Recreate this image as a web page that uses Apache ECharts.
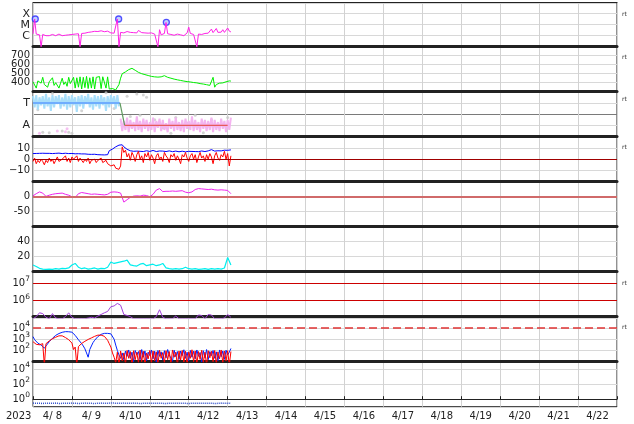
<!DOCTYPE html>
<html><head><meta charset="utf-8">
<script src="https://cdn.jsdelivr.net/npm/echarts@6/dist/echarts.min.js"></script>
<style>html,body{margin:0;padding:0;background:#fff}#c{width:634px;height:424px}</style>
</head><body><div id="c"></div>
<script>
// ================= DATA (hours counted from 2023-04-08 00 UT) =================
const dayLabels = ['4/ 8','4/ 9','4/10','4/11','4/12','4/13','4/14','4/15','4/16','4/17','4/18','4/19','4/20','4/21','4/22'];
const yearLabel = '2023';
const fluxClassLabels = {'-6':'C','-5':'M','-4':'X'};
const sectorLabels = {'1':'A','3':'T'};

// X-ray flux, hourly, in 1e-6 W/m2
const xrayFlux = [
 1.5,33,1.4,1.1,1.2,0.1,1.3,1.1,1.0,1.2,
 1.0,1.1,1.3,1.1,1.0,1.2,1.4,1.1,1.0,1.2,
 1.1,1.3,1.2,1.1,1.3,1.5,1.4,1.8,1.5,0.1,
 1.6,1.4,1.7,1.5,2.0,1.6,2.2,1.8,2.5,1.9,
 2.4,2.0,2.8,2.1,2.3,1.9,2.6,2.0,1.8,2.2,
 1.7,2.0,33,0.1,2.0,1.6,1.8,1.5,2.4,1.7,
 2.0,2.8,1.9,2.6,1.8,3.0,2.1,1.9,2.4,1.8,
 2.0,1.7,2.2,1.8,1.6,1.4,1.3,0.1,3.5,1.2,
 1.5,1.6,16,1.5,1.4,1.3,1.2,1.1,1.2,1.4,
 1.3,1.2,1.1,1.0,1.2,1.8,6.0,1.6,1.4,1.3,
 1.2,0.1,1.4,1.5,1.3,1.4,1.6,2.0,1.7,2.2,
 4.0,1.9,2.1,4.5,2.0,2.4,2.1,3.5,2.0,2.3,
 5.0,2.6,2.2];
const flareHours = [1.4, 52.8, 82.2];
const flareFlux = [33, 33, 16.5]; // 1e-6 W/m2

// Solar wind speed, hourly, km/s
const windSpeed = [
 410,430,340,420,400,
 395,460,380,400,350,410,390,455,370,400,420,340,395,450,380,410,360,460,390,400,
 460,340,455,350,465,330,460,345,470,335,455,340,465,330,460,
 465,468,335,466,467,340,465,
 330,325,335,328,320,330,
 380,450,500,515,520,
 535,545,550,560,545,538,
 525,515,510,500,495,490,485,
 480,475,470,468,465,460,462,458,465,
 470,478,465,460,455,
 450,445,440,438,432,430,425,420,418,415,412,410,408,405,402,
 400,398,395,390,388,385,382,378,375,
 370,355,460,350,
 380,390,395,400,398,405,410,415,420,418];

// Sector: T (3) / A (1)
const sectorHours = [0, 53.6, 56.5, 120];
const sectorVals  = [3, 3, 1, 1];
const towardCloud = [ // hourly from h0
 3.6,2.6,3.7,2.4,3.5,2.8,3.6,2.5,3.8,2.7,
 3.5,2.3,3.7,2.6,3.6,2.9,3.7,2.5,3.5,2.7,
 3.8,2.4,3.6,2.6,3.7,2.8,3.5,2.2,3.6,2.7,
 3.7,2.5,3.6,2.9,3.8,2.6,3.5,2.4,3.7,2.7,
 3.6,2.5,3.7,2.8,3.5,2.3,3.6,2.6,3.7,2.9,
 3.6,2.5,3.7,2.7];
const awayStartHour = 54;
const awayCloud = [ // hourly from h54
 1.6,0.5,1.4,0.6,1.7,0.4,1.5,0.7,1.3,0.5,
 1.8,0.6,1.4,0.4,1.6,0.7,1.5,0.5,1.3,0.6,
 1.7,0.4,1.4,0.8,1.6,0.5,1.5,0.6,1.2,0.4,
 1.6,0.7,1.4,0.5,1.7,0.6,1.3,0.5,1.5,0.4,
 1.6,0.7,1.4,0.6,1.8,0.5,1.5,0.6,1.3,0.4,
 1.6,0.7,1.5,0.5,1.4,0.6,1.7,0.4,1.5,0.6,
 1.3,0.5,1.6,0.7,1.4,0.4,1.5,0.6,1.7];
const greyHours = [3,12,30,45,50,6,10,18,22,24,58,64,68,70,60,66,75,80,88,95,100,110,115,120,85,105];
const greyVals  = [2.4,3.85,2.3,3.9,2.5,0.4,0.35,0.5,0.4,0.3,3.6,3.8,3.7,3.5,1.8,1.9,1.5,0.8,1.7,1.2,1.9,1.5,0.9,1.7,0.3,0.35];
const pinkDotHours = [4,15,20,21];
const pinkDotVals  = [0.3,0.5,0.45,0.7];

// IMF, hourly, nT
const btTotal = [
 5.0,5.3,5.1,5.4,5.2,5.0,5.3,5.1,5.2,5.4,5.2,5.1,5.0,5.3,5.2,5.1,5.4,5.2,5.0,5.1,5.3,5.2,5.0,4.9,5.1,5.0,4.8,5.0,4.9,4.8,
 4.7,4.6,4.7,4.5,4.4,4.5,4.3,4.2,4.4,4.1,4.0,4.2,3.9,4.0,3.8,3.9,4.0,
 7.5,8.5,9.0,9.8,11.0,12.0,12.5,13.5,12.8,11.0,
 9.5,8.8,8.0,7.5,7.8,7.0,6.8,7.2,6.9,
 7.0,7.3,6.8,7.1,7.5,7.2,6.9,7.4,7.8,7.1,
 6.8,7.0,7.3,6.9,7.2,7.0,6.8,7.1,7.4,7.0,
 6.7,6.9,7.2,6.8,6.6,6.9,7.1,6.7,6.5,6.8,
 7.0,6.6,6.9,7.2,6.8,7.0,6.7,6.9,7.3,7.0,
 6.8,7.1,7.4,7.0,8.5,9.5,7.2,7.0,7.5,7.8,
 7.4,7.6,8.0,8.2,7.9,8.4,8.3];
const bzComp = [
 -2,1,-4,-1,-3,0,-2,-5,-1,-3, 1,-2,0,-4,-1,2,-2,-3,0,-1, 3,-2,1,-3,2,0,-1,3,-2,1, -1,-3,0,-2,1,-4,-1,-2,0,-3, -1,-2,1,-3,-2,-1,-4,
 -5,-6,-7,-5,-8,-7,-9,
 -6,11,6,
 8,2,5,-1,6,3,-2,4,7,0, 3,-3,5,2,6,-1,4,1,-4,3, 5,0,2,-2,6,3,1,-3,4,2,
 5,-1,3,0,-4,4,2,6,1,-2, 3,5,0,4,-3,2,6,1,3,-2, 4,0,5,2,-4,3,6,1,-1,4, 2,7,0,5,-6,3];

// Geomagnetic index, every 2 h, nT
const dstIndex = [
 3,10,16,12,1,5,8,10,11,12,
 8,5,0,-3,10,14,12,10,8,9,
 8,7,6,8,15,16,15,12,-18,-10,
 -2,2,3,2,5,4,0,8,22,27,
 17,18,18,19,18,19,20,15,13,16,
 24,27,26,25,24,25,23,22,23,22,
 21,10];

// Density-like series, every 2 h
const densityVals = [
 9,7,4.5,3.5,3,3.5,3,4,3.5,4.5,
 4,5,9,11,6,4,5,3.5,4,5,
 3.5,4.5,4,6,13,11,12,13,14,15.5,
 9,8,7.5,10,11,8,9,10,8,9,
 11,5,4,3.5,4,3.5,4,6,4,3.5,
 4,3,3.5,4,3,4,3.5,4,3.5,5,
 19,9];

// Electron flux, every 2 h, in 1e5
const electronFlux = [
 0.9,1.2,2.0,1.8,1.1,0.9,1.8,1.0,0.9,0.9,
 1.2,2.0,1.1,0.9,0.9,0.9,0.9,1.0,1.1,1.0,
 1.3,1.6,2.0,2.4,4.5,5.0,7.0,5.5,1.6,1.4,
 1.2,0.9,0.9,0.9,0.9,0.9,0.9,0.9,1.2,3.0,
 1.1,0.9,0.9,0.9,1.3,0.9,0.9,0.9,0.9,0.9,
 0.9,1.5,1.4,0.9,1.6,1.5,0.9,0.9,0.9,1.0,
 1.6,1.1];
const electronAlerts = [1e6, 1e7];

// Proton/particle fluxes, hourly
const fluxBlue = [
 1700,900,600,450,350,300,200,160,250,350,
 600,900,1200,1700,2200,2700,3200,3700,4100,4500,
 4700,4700,4600,4500,4200,3200,2200,1500,900,600,
 400,250,140,60,25,120,250,500,800,1200,
 1700,2200,2700,3000,3300,3400,3300,3200,3000,2500,
 1000,300,100,40,20,
 60,15,90,30,110,20,70,10,100,40, 80,15,120,25,90,12,70,35,110,18,
 85,9,100,30,75,14,95,22,120,40, 60,11,105,28,80,16,90,35,115,20,
 70,12,100,25,85,18,110,30,65,9, 95,22,120,15,80,35,100,20,75,12,
 110,28,90,16,105,40,70,150];
const fluxRed = [
 600,450,350,300,320,350,400,5,400,550,
 700,900,1100,1300,1500,1700,2000,2200,2000,1700,
 1400,1100,900,700,450,120,200,5,220,300,
 420,550,650,800,950,1100,1300,1600,1800,2100,
 2300,2400,2300,2100,1800,1300,800,400,200,60,25,
 8,70,5,90,12,60,6,100,20,80, 5,95,15,70,8,110,10,85,5,60,
 18,100,7,90,12,75,5,105,20,65, 8,95,15,80,6,110,25,70,5,90,
 14,100,9,85,5,75,20,115,10,90, 6,80,16,105,8,70,5,95,22,85,
 10,100,6,75,18,110,8,90,12,95, 5,80];
const fluxAlert = 1e4;

// Bottom panel, every 2 h
const lowFlux = [
 0.30,0.28,0.29,0.27,0.30,0.28,0.29,0.30,0.27,0.28,
 0.29,0.28,0.30,0.29,0.27,0.28,0.30,0.29,0.28,0.27,
 0.29,0.30,0.28,0.29,0.31,0.30,0.29,0.28,0.30,0.29,
 0.28,0.30,0.29,0.27,0.28,0.30,0.29,0.28,0.30,0.29,
 0.28,0.27,0.29,0.30,0.28,0.29,0.30,0.28,0.27,0.29,
 0.28,0.30,0.29,0.28,0.30,0.29,0.27,0.28,0.30,0.29,
 0.28,0.30];

// ================= BUILD =================
const L10 = Math.log10;
const series1 = (arr, start, step, f) => arr.map((v, i) => [start + i * step, f ? f(v) : v]);
const zip = (xs, ys, f) => xs.map((x, i) => [x, f ? f(ys[i]) : ys[i]]);

const FONT = 'DejaVu Sans';
const tops = [2.7, 46.7, 91.7, 136.7, 181.7, 226.7, 271.7, 316.7, 361.7];
const heights = [44, 45, 45, 45, 45, 45, 46.3, 45, 45];
const grid = tops.map((t, i) => ({left: 33, right: 17, top: t, height: heights[i], show: true,
  borderColor: '#222', borderWidth: 1, backgroundColor: 'transparent', containLabel: false, outerBoundsMode: 'none'}));

const xAxis = tops.map((t, i) => ({type: 'value', gridIndex: i, min: 0, max: 360, interval: 24, position: 'top',
  axisLine: {show: true, onZero: false, lineStyle: {color: '#222', width: i === 0 ? 1 : 3}},
  axisTick: {show: false}, axisLabel: {show: false},
  splitLine: {show: true, lineStyle: {color: '#d2d2d2', width: 1}}}));
xAxis.push({type: 'category', gridIndex: 8, position: 'bottom', data: dayLabels, boundaryGap: true,
  axisLine: {show: true, lineStyle: {color: '#222', width: 1}},
  axisTick: {show: true, inside: true, length: 3, lineStyle: {color: '#222'}},
  axisLabel: {interval: 0, fontSize: 10, margin: 5, color: '#222', fontFamily: FONT},
  splitLine: {show: false}});

const near = (v, k) => Math.abs(v - k) < 1e-6;
const lbl = {fontSize: 10, color: '#222', fontFamily: FONT, margin: 3};
const supRich = {b: {fontSize: 10, fontFamily: FONT, color: '#222', lineHeight: 16},
                 s: {fontSize: 7.5, fontFamily: FONT, color: '#222', lineHeight: 9, verticalAlign: 'top'}};
const supFmt = (shows) => (v) => { for (const e of shows) if (near(v, e)) return '{b|10}{s|' + e + '}'; return ''; };
const baseY = (i, o) => Object.assign({type: 'value', gridIndex: i, axisLine: {show: false}, axisTick: {show: false},
  splitLine: {show: true, lineStyle: {color: '#d8d8d8', width: 1}}}, o);

const yAxis = [
  baseY(0, {min: -7, max: -3, interval: 1, axisLabel: Object.assign({}, lbl, {fontSize: 11, formatter: v => fluxClassLabels[String(Math.round(v))] && near(v, Math.round(v)) ? fluxClassLabels[String(Math.round(v))] : ''})}),
  baseY(1, {min: 300, max: 800, interval: 100, axisLabel: Object.assign({}, lbl, {formatter: v => (v > 300 && v < 800) ? String(v) : ''})}),
  baseY(2, {min: 0, max: 4, interval: 1, axisLabel: Object.assign({}, lbl, {fontSize: 11, formatter: v => sectorLabels[String(v)] || ''}),
    splitLine: {show: true, lineStyle: {color: ['#d8d8d8', '#d8d8d8', '#7a7a7a', '#d8d8d8', '#d8d8d8'], width: 1}}}),
  baseY(3, {min: -20, max: 20, interval: 10, axisLabel: Object.assign({}, lbl, {formatter: v => v === 10 ? '10' : v === 0 ? '0' : v === -10 ? '\u221210' : ''})}),
  baseY(4, {min: -100, max: 50, interval: 50, axisLabel: Object.assign({}, lbl, {formatter: v => v === 0 ? '0' : v === -50 ? '-50' : ''})}),
  baseY(5, {min: 0, max: 60, interval: 20, axisLabel: Object.assign({}, lbl, {formatter: v => (v === 20 || v === 40) ? String(v) : ''})}),
  baseY(6, {min: 5, max: 7.68, interval: 1, axisLabel: Object.assign({}, lbl, {formatter: supFmt([6, 7]), rich: supRich})}),
  baseY(7, {min: 1, max: 5, interval: 1, axisLabel: Object.assign({}, lbl, {formatter: supFmt([2, 3, 4]), rich: supRich})}),
  baseY(8, {min: -1, max: 5, interval: 1, axisLabel: Object.assign({}, lbl, {formatter: supFmt([0, 2, 4]), rich: supRich}),
    splitLine: {show: true, lineStyle: {color: ['rgba(0,0,0,0)', '#d8d8d8'], width: 1}}})
];

const line = (i, data, color, width, extra) => Object.assign({type: 'line', xAxisIndex: i, yAxisIndex: i, data: data,
  symbol: 'none', showSymbol: false, clip: true, animation: false, silent: true,
  lineStyle: {color: color, width: width || 1}}, extra || {});
const hline = (vals, color, width, type) => ({silent: true, symbol: 'none', animation: false, label: {show: false},
  lineStyle: {color: color, width: width, type: type || 'solid'}, data: vals.map(v => ({yAxis: v}))});

const series = [
  // panel 1
  line(0, series1(xrayFlux, 0, 1, v => L10(v * 1e-6)), '#ff22e6', 1),
  {type: 'scatter', xAxisIndex: 0, yAxisIndex: 0, data: zip(flareHours, flareFlux, v => L10(v * 1e-6)), symbol: 'circle', symbolSize: 6,
   animation: false, silent: true, itemStyle: {color: '#b4c4ff', borderColor: '#2a2aff', borderWidth: 1.3}},
  // panel 2
  line(1, series1(windSpeed, 0, 1), '#00ee00', 1),
  // panel 3
  {type: 'scatter', xAxisIndex: 2, yAxisIndex: 2, data: zip(greyHours, greyVals), symbolSize: 3, animation: false, silent: true, itemStyle: {color: '#c8c8c8'}},
  {type: 'scatter', xAxisIndex: 2, yAxisIndex: 2, data: zip(pinkDotHours, pinkDotVals), symbolSize: 3, animation: false, silent: true, itemStyle: {color: '#f2b2ee'}},
  line(2, series1(towardCloud, 0, 1), '#a8defa', 2),
  line(2, series1(awayCloud, awayStartHour, 1), '#f4b4f0', 2),
  line(2, zip(sectorHours.slice(0, 2), sectorVals.slice(0, 2)), '#5c9cff', 1.5),
  line(2, zip(sectorHours.slice(1, 3), sectorVals.slice(1, 3)), '#5f9a5f', 1.2),
  line(2, zip(sectorHours.slice(2, 4), sectorVals.slice(2, 4)), '#e65a5a', 1.2),
  // panel 4
  line(3, series1(btTotal, 0, 1), '#0000ff', 1, {markLine: hline([0], '#a00000', 1)}),
  line(3, series1(bzComp, 0, 1), '#ff0000', 1),
  // panel 5
  line(4, series1(dstIndex, 0, 2), '#ee22ee', 1, {markLine: hline([0], '#d06a6a', 2)}),
  // panel 6
  line(5, series1(densityVals, 0, 2), '#00eeee', 1.2),
  // panel 7
  line(6, series1(electronFlux, 0, 2, v => L10(v * 1e5)), '#a040d8', 1, {markLine: hline(electronAlerts.map(L10), '#cc0000', 1)}),
  // panel 8
  line(7, series1(fluxBlue, 0, 1, L10), '#0022ff', 1, {markLine: hline([L10(fluxAlert)], '#e03333', 1.5, [8, 4])}),
  line(7, series1(fluxRed, 0, 1, L10), '#ff0000', 1),
  // panel 9
  line(8, series1(lowFlux, 0, 2, L10), '#3050cc', 1.5, {lineStyle: {color: '#3050cc', width: 1.5, type: [1, 1]}})
];

const rtYs = [14, 57, 99, 147, 283, 327];
const graphic = [{type: 'text', left: 6, top: 411, style: {text: yearLabel, fontSize: 10, fontFamily: FONT, fill: '#222'}}]
  .concat(rtYs.map(y => ({type: 'text', left: 622, top: y - 3, style: {text: 'rt', fontSize: 6, fontFamily: FONT, fill: '#333'}})));

const chart = echarts.init(document.getElementById('c'), null, {renderer: 'canvas', width: 634, height: 424});
chart.setOption({animation: false, backgroundColor: '#fff', grid, xAxis, yAxis, series, graphic});
</script></body></html>
